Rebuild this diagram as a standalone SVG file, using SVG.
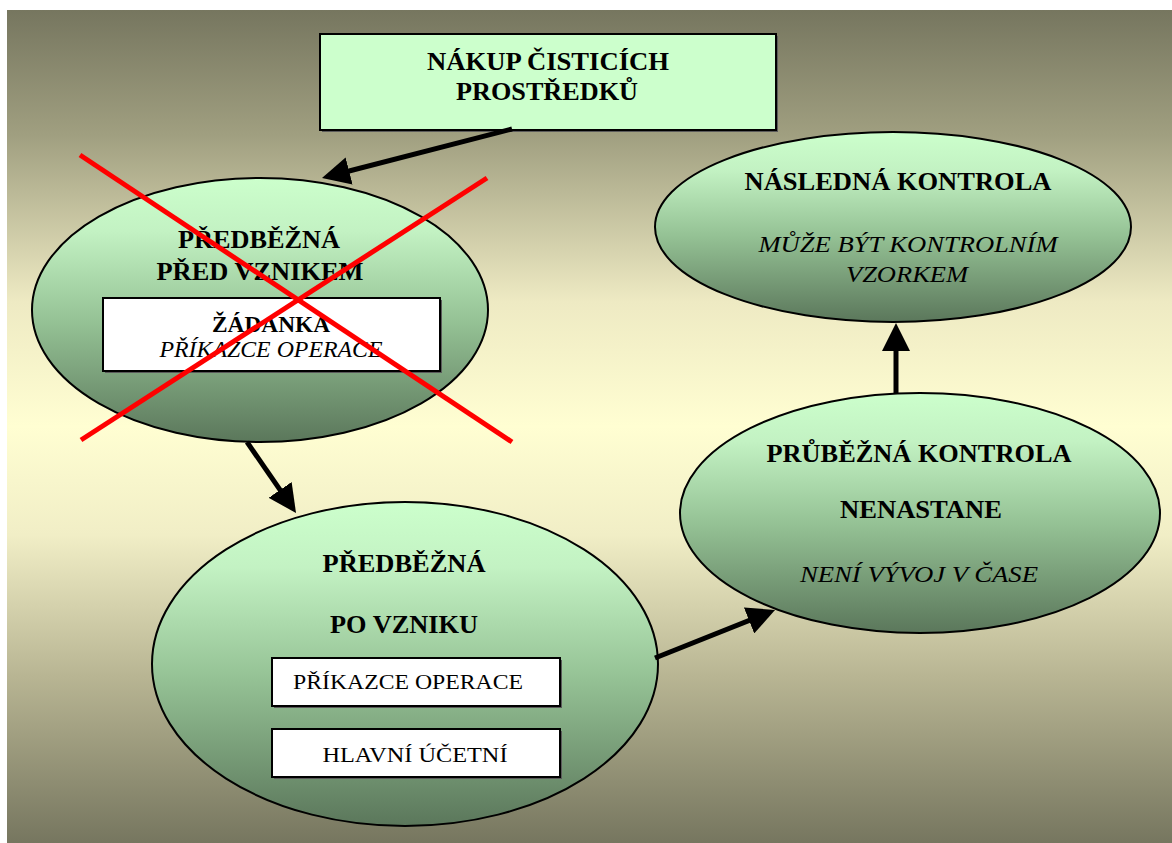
<svg xmlns="http://www.w3.org/2000/svg" width="1172" height="843" viewBox="0 0 1172 843">
  <defs>
    <linearGradient id="bg" x1="0" y1="0" x2="0" y2="1">
      <stop offset="0" stop-color="#76765f"/>
      <stop offset="0.15" stop-color="#a09f80"/>
      <stop offset="0.35" stop-color="#eeeac3"/>
      <stop offset="0.5" stop-color="#fffed2"/>
      <stop offset="0.63" stop-color="#f1eec6"/>
      <stop offset="0.8" stop-color="#b8b593"/>
      <stop offset="1" stop-color="#76765f"/>
    </linearGradient>
    <linearGradient id="oval" x1="0" y1="0" x2="0" y2="1">
      <stop offset="0" stop-color="#ccffcc"/>
      <stop offset="0.2" stop-color="#c3f2c3"/>
      <stop offset="0.55" stop-color="#94c194"/>
      <stop offset="1" stop-color="#5b775b"/>
    </linearGradient>
    <marker id="head" markerUnits="userSpaceOnUse" markerWidth="28" markerHeight="28" refX="16" refY="14" orient="auto">
      <path d="M0,0 L28,14 L0,28 z" fill="#000"/>
    </marker>
  </defs>
  <style>
    .oval { fill: url(#oval); stroke: #000; stroke-width: 2; }
    .box { fill: #fff; stroke: #000; stroke-width: 2; }
    .shadow { fill: #5a5a5a; }
    .topbox { fill: #ccffcc; stroke: #000; stroke-width: 2; }
    .b { font-family: "Liberation Serif", "Times New Roman", serif; font-weight: bold; font-size: 25px; fill: #000; text-anchor: middle; }
    .i { font-family: "Liberation Serif", "Times New Roman", serif; font-style: italic; font-size: 24px; fill: #000; text-anchor: middle; }
    .r { font-family: "Liberation Serif", "Times New Roman", serif; font-size: 22px; fill: #000; text-anchor: middle; }
    .conn line { stroke: #000; stroke-width: 5; marker-end: url(#head); }
    .cross line { stroke: #ff0000; stroke-width: 5; }
  </style>

  <!-- backdrop -->
  <rect x="7" y="10" width="1165" height="833" fill="url(#bg)"/>

  <!-- purchase box -->
  <g id="nakup">
    <rect class="shadow" x="322" y="36" width="456" height="96"/>
    <rect class="topbox" x="320" y="34" width="456" height="96"/>
    <text class="b" x="548" y="70" textLength="242" lengthAdjust="spacingAndGlyphs">NÁKUP ČISTICÍCH</text>
    <text class="b" x="547" y="100" textLength="182" lengthAdjust="spacingAndGlyphs">PROSTŘEDKŮ</text>
  </g>

  <!-- preliminary check before origin -->
  <g id="pred-vznikem">
    <ellipse class="oval" cx="260" cy="310" rx="228" ry="132"/>
    <text class="b" x="259" y="248" textLength="162" lengthAdjust="spacingAndGlyphs">PŘEDBĚŽNÁ</text>
    <text class="b" x="260" y="280" textLength="207" lengthAdjust="spacingAndGlyphs">PŘED VZNIKEM</text>
    <rect class="shadow" x="105" y="300" width="337" height="73"/>
    <rect class="box" x="103" y="298" width="337" height="73"/>
    <text class="b" x="271" y="332" textLength="118" lengthAdjust="spacingAndGlyphs" style="font-size:23px">ŽÁDANKA</text>
    <text class="i" x="271" y="357" textLength="223" lengthAdjust="spacingAndGlyphs" style="font-size:23px">PŘÍKAZCE OPERACE</text>
  </g>

  <!-- preliminary check after origin -->
  <g id="po-vzniku">
    <ellipse class="oval" cx="405" cy="664" rx="253" ry="162"/>
    <text class="b" x="404" y="572" textLength="163" lengthAdjust="spacingAndGlyphs">PŘEDBĚŽNÁ</text>
    <text class="b" x="404" y="633" textLength="148" lengthAdjust="spacingAndGlyphs">PO VZNIKU</text>
    <rect class="shadow" x="274" y="660" width="288" height="48"/>
    <rect class="box" x="272" y="658" width="288" height="48"/>
    <text class="r" x="408" y="689" textLength="230" lengthAdjust="spacingAndGlyphs">PŘÍKAZCE OPERACE</text>
    <rect class="shadow" x="274" y="731" width="288" height="48"/>
    <rect class="box" x="272" y="729" width="288" height="48"/>
    <text class="r" x="415" y="762" textLength="185" lengthAdjust="spacingAndGlyphs">HLAVNÍ ÚČETNÍ</text>
  </g>

  <!-- ongoing check -->
  <g id="prubezna">
    <ellipse class="oval" cx="920" cy="513" rx="240" ry="120"/>
    <text class="b" x="919" y="462" textLength="305" lengthAdjust="spacingAndGlyphs">PRŮBĚŽNÁ KONTROLA</text>
    <text class="b" x="921" y="518" textLength="162" lengthAdjust="spacingAndGlyphs">NENASTANE</text>
    <text class="i" x="919" y="582" textLength="238" lengthAdjust="spacingAndGlyphs">NENÍ VÝVOJ V ČASE</text>
  </g>

  <!-- follow-up check -->
  <g id="nasledna">
    <ellipse class="oval" cx="893" cy="227" rx="238" ry="95"/>
    <text class="b" x="898" y="190" textLength="307" lengthAdjust="spacingAndGlyphs">NÁSLEDNÁ KONTROLA</text>
    <text class="i" x="908" y="252" textLength="299" lengthAdjust="spacingAndGlyphs">MŮŽE BÝT KONTROLNÍM</text>
    <text class="i" x="907" y="282" textLength="122" lengthAdjust="spacingAndGlyphs">VZORKEM</text>
  </g>

  <!-- connectors -->
  <g id="connectors" class="conn">
    <line x1="512" y1="129" x2="333.6" y2="175"/>
    <line x1="247" y1="442" x2="289.2" y2="503.1"/>
    <line x1="655" y1="658" x2="763.9" y2="614.5"/>
    <line x1="896" y1="393" x2="896" y2="335"/>
  </g>

  <!-- crossed-out mark -->
  <g id="cross" class="cross">
    <line x1="80" y1="155" x2="512" y2="442"/>
    <line x1="487" y1="178" x2="81" y2="440"/>
  </g>
</svg>
